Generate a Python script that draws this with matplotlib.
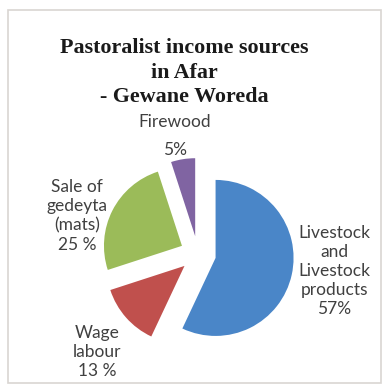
import matplotlib.pyplot as plt
from matplotlib.patches import Rectangle

# Income shares, clockwise from 12 o'clock
sources = ["Livestock\nand\nLivestock\nproducts", "Wage\nlabour", "Sale of\ngedeyta\n(mats)", "Firewood"]
shares = [57, 13, 25, 5]
share_text = ["57%", "13 %", "25 %", "5%"]
colors = ["#4A86C8", "#C0504D", "#9BBB59", "#8064A2"]

W, H = 383, 386
fig = plt.figure(figsize=(W / 100, H / 100), dpi=100)
ax = fig.add_axes([0, 0, 1, 1])

# pixel-style coordinates, y measured from the top
def py(y):
    return H - y

# explode is in data units here (same as the radius)
ax.pie(shares, colors=colors, startangle=90, counterclock=False,
       explode=[18] * len(shares), radius=78, center=(198, py(254)),
       wedgeprops=dict(linewidth=0))

ax.set_xlim(0, W)
ax.set_ylim(0, H)
ax.set_aspect('equal')
ax.axis('off')

# chart frame
ax.add_patch(Rectangle((8, py(383)), 373, 373, fill=False,
                       edgecolor='#d9d5d2', linewidth=1.2))

title_font = dict(family='Liberation Serif', weight='bold', fontsize=15.8, color='#1a1a1a')
ax.text(184, py(48), "Pastoralist income sources", ha='center', va='center', **title_font)
ax.text(184, py(73), "in Afar", ha='center', va='center', **title_font)
ax.text(184, py(97), "- Gewane Woreda", ha='center', va='center', **title_font)

label_font = dict(family='Lato', fontsize=12.5, color='#404040', ha='center', va='center',
                  linespacing=1.25)
ax.text(334, py(271), sources[0] + "\n" + share_text[0], **label_font)
ax.text(97, py(352), sources[1] + "\n" + share_text[1], **label_font)
ax.text(77, py(216), sources[2] + "\n" + share_text[2], **label_font)
ax.text(175, py(122), sources[3], **label_font)
ax.text(175, py(150), share_text[3], **label_font)

fig.savefig("out.png", dpi=100)
